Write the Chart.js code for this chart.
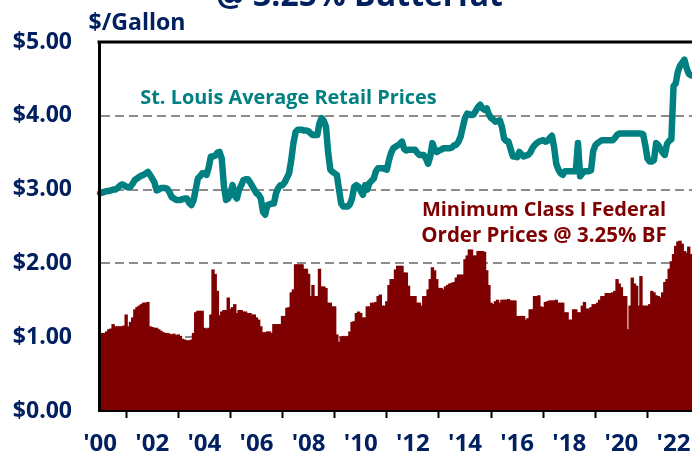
<!DOCTYPE html>
<html>
<head>
<meta charset="utf-8">
<script src="https://cdn.jsdelivr.net/npm/chart.js@4.4.0/dist/chart.umd.min.js"></script>
<style>
  html, body { margin: 0; padding: 0; background: #ffffff; overflow: hidden; }
  #wrap { width: 692px; height: 457px; }
</style>
</head>
<body>
<div id="wrap"><canvas id="chart" width="692" height="457"></canvas></div>
<script>
// Monthly data, Jan 2000 - Sep 2022 ($/gallon)
const years = [2000, 2001, 2002, 2003, 2004, 2005, 2006, 2007, 2008, 2009, 2010, 2011,
               2012, 2013, 2014, 2015, 2016, 2017, 2018, 2019, 2020, 2021, 2022];
const monthsInLastYear = 9;

const retailPrices = [
    2.95, 2.96, 2.97, 2.98, 2.98, 2.99, 3.00, 3.00, 3.02, 3.05, 3.07, 3.06, // 2000
    3.04, 3.03, 3.04, 3.08, 3.13, 3.15, 3.17, 3.19, 3.20, 3.22, 3.24, 3.20, // 2001
    3.15, 3.10, 2.99, 3.00, 3.02, 3.02, 3.02, 3.01, 2.96, 2.90, 2.88, 2.86, // 2002
    2.86, 2.86, 2.87, 2.88, 2.88, 2.82, 2.79, 2.85, 3.00, 3.15, 3.18, 3.22, // 2003
    3.22, 3.20, 3.30, 3.45, 3.45, 3.46, 3.50, 3.51, 3.42, 3.05, 2.86, 2.88, // 2004
    2.95, 3.06, 2.92, 2.88, 3.00, 3.06, 3.13, 3.14, 3.14, 3.10, 3.05, 3.00, // 2005
    2.95, 2.93, 2.88, 2.70, 2.66, 2.79, 2.80, 2.81, 2.81, 2.95, 3.02, 3.06, // 2006
    3.06, 3.10, 3.16, 3.22, 3.40, 3.63, 3.78, 3.81, 3.81, 3.81, 3.80, 3.80, // 2007
    3.79, 3.76, 3.74, 3.74, 3.74, 3.90, 3.97, 3.93, 3.85, 3.50, 3.27, 3.24, // 2008
    3.22, 3.20, 3.00, 2.81, 2.77, 2.77, 2.77, 2.80, 2.88, 3.04, 3.06, 3.04, // 2009
    2.98, 2.93, 3.06, 3.00, 3.09, 3.12, 3.15, 3.25, 3.29, 3.29, 3.29, 3.28, // 2010
    3.27, 3.40, 3.50, 3.56, 3.58, 3.60, 3.62, 3.65, 3.55, 3.53, 3.54, 3.54, // 2011
    3.54, 3.54, 3.50, 3.47, 3.47, 3.47, 3.42, 3.35, 3.45, 3.63, 3.55, 3.51, // 2012
    3.53, 3.54, 3.56, 3.56, 3.56, 3.56, 3.57, 3.60, 3.61, 3.65, 3.72, 3.85, // 2013
    3.97, 4.03, 4.02, 4.01, 4.02, 4.07, 4.12, 4.15, 4.10, 4.08, 4.10, 4.02, // 2014
    3.97, 3.95, 3.92, 3.93, 3.94, 3.85, 3.69, 3.66, 3.65, 3.55, 3.45, 3.45, // 2015
    3.44, 3.51, 3.48, 3.45, 3.46, 3.47, 3.50, 3.56, 3.60, 3.63, 3.65, 3.66, // 2016
    3.67, 3.65, 3.66, 3.70, 3.73, 3.58, 3.35, 3.27, 3.22, 3.20, 3.25, 3.25, // 2017
    3.25, 3.25, 3.25, 3.25, 3.63, 3.18, 3.22, 3.25, 3.25, 3.25, 3.26, 3.52, // 2018
    3.60, 3.63, 3.65, 3.67, 3.67, 3.67, 3.67, 3.67, 3.67, 3.70, 3.74, 3.76, // 2019
    3.76, 3.76, 3.76, 3.76, 3.76, 3.76, 3.76, 3.76, 3.76, 3.76, 3.75, 3.60, // 2020
    3.42, 3.38, 3.38, 3.40, 3.63, 3.60, 3.55, 3.50, 3.47, 3.62, 3.66, 3.68, // 2021
    4.40, 4.44, 4.60, 4.68, 4.72, 4.76, 4.65, 4.57, 4.55                    // 2022
];

const classIPrices = [
    1.05, 1.05, 1.05, 1.07, 1.10, 1.11, 1.17, 1.14, 1.14, 1.14, 1.14, 1.15, // 2000
    1.30, 1.14, 1.20, 1.26, 1.37, 1.40, 1.42, 1.44, 1.46, 1.46, 1.47, 1.14, // 2001
    1.13, 1.12, 1.12, 1.10, 1.08, 1.06, 1.05, 1.05, 1.04, 1.03, 1.04, 1.02, // 2002
    1.03, 1.01, 0.97, 0.96, 0.95, 0.95, 0.96, 1.05, 1.33, 1.35, 1.35, 1.35, // 2003
    1.12, 1.11, 1.12, 1.30, 1.91, 1.85, 1.62, 1.29, 1.34, 1.36, 1.36, 1.53, // 2004
    1.38, 1.40, 1.44, 1.32, 1.36, 1.36, 1.34, 1.34, 1.32, 1.32, 1.30, 1.30, // 2005
    1.26, 1.23, 1.14, 1.06, 1.06, 1.07, 1.07, 1.05, 1.17, 1.17, 1.17, 1.17, // 2006
    1.28, 1.28, 1.39, 1.40, 1.60, 1.64, 1.98, 1.98, 1.98, 1.98, 1.92, 1.92, // 2007
    1.85, 1.55, 1.70, 1.55, 1.55, 1.92, 1.68, 1.68, 1.66, 1.46, 1.46, 1.41, // 2008
    1.41, 1.03, 0.93, 1.00, 1.01, 1.00, 1.01, 1.07, 1.20, 1.21, 1.32, 1.34, // 2009
    1.32, 1.26, 1.26, 1.41, 1.41, 1.46, 1.46, 1.47, 1.55, 1.57, 1.42, 1.42, // 2010
    1.48, 1.70, 1.78, 1.78, 1.91, 1.96, 1.96, 1.96, 1.87, 1.87, 1.69, 1.55, // 2011
    1.55, 1.55, 1.46, 1.46, 1.42, 1.55, 1.55, 1.64, 1.78, 1.94, 1.90, 1.78, // 2012
    1.66, 1.66, 1.64, 1.68, 1.70, 1.72, 1.73, 1.74, 1.80, 1.84, 1.84, 1.84, // 2013
    2.05, 2.10, 2.18, 2.18, 2.10, 2.10, 2.16, 2.16, 2.16, 2.15, 1.90, 1.70, // 2014
    1.46, 1.44, 1.48, 1.50, 1.46, 1.50, 1.50, 1.50, 1.51, 1.49, 1.49, 1.49, // 2015
    1.28, 1.28, 1.28, 1.28, 1.23, 1.25, 1.37, 1.37, 1.55, 1.55, 1.56, 1.41, // 2016
    1.40, 1.47, 1.48, 1.49, 1.49, 1.49, 1.50, 1.46, 1.46, 1.46, 1.33, 1.33, // 2017
    1.23, 1.23, 1.37, 1.37, 1.33, 1.33, 1.42, 1.47, 1.38, 1.38, 1.40, 1.44, // 2018
    1.44, 1.46, 1.50, 1.55, 1.55, 1.59, 1.59, 1.59, 1.60, 1.62, 1.78, 1.72, // 2019
    1.67, 1.55, 1.55, 1.10, 1.42, 1.80, 1.72, 1.69, 1.42, 1.82, 1.42, 1.42, // 2020
    1.42, 1.44, 1.62, 1.60, 1.56, 1.55, 1.53, 1.60, 1.74, 1.78, 1.92, 2.02, // 2021
    2.12, 2.23, 2.29, 2.30, 2.26, 2.16, 2.14, 2.22, 2.12                    // 2022
];

const yTicks = [0, 1, 2, 3, 4, 5];
const yearTickLabels = ["'00", "'02", "'04", "'06", "'08", "'10", "'12", "'14", "'16", "'18", "'20", "'22"];

const navy = '#002060';
const teal = '#008080';
const darkRed = '#7f0000';

// category labels, one per month
const months = [];
years.forEach((year, i) => {
    const count = i === years.length - 1 ? monthsInLastYear : 12;
    for (let m = 1; m <= count; m++) {
        months.push(`${year}-${String(m).padStart(2, '0')}`);
    }
});

function drawFitText(ctx, text, centerX, baseline, targetWidth, color) {
    ctx.font = 'bold 20px "Open Sans"';
    const size = 20 * targetWidth / ctx.measureText(text).width;
    ctx.font = `bold ${size.toFixed(1)}px "Open Sans"`;
    ctx.fillStyle = color;
    ctx.textAlign = 'center';
    ctx.textBaseline = 'alphabetic';
    ctx.fillText(text, centerX, baseline);
}

// top frame line and the text labels
const overlayPlugin = {
    id: 'overlayText',
    afterDraw(chart) {
        const { ctx, chartArea } = chart;
        ctx.save();
        ctx.strokeStyle = 'black';
        ctx.lineWidth = 3;
        ctx.beginPath();
        ctx.moveTo(chartArea.left - 1.5, chartArea.top);
        ctx.lineTo(chartArea.right, chartArea.top);
        ctx.stroke();

        drawFitText(ctx, '@ 3.25% Butterfat', 359.5, 6, 287, navy);
        drawFitText(ctx, '$/Gallon', 137, 30, 97, navy);
        drawFitText(ctx, 'St. Louis Average Retail Prices', 288.5, 104, 297, teal);
        drawFitText(ctx, 'Minimum Class I Federal', 544, 216, 244, darkRed);
        drawFitText(ctx, 'Order Prices @ 3.25% BF', 544, 241.5, 245, darkRed);
        ctx.restore();
    }
};

Chart.defaults.font.family = '"Open Sans", sans-serif';
Chart.defaults.font.weight = 'bold';

const ctx = document.getElementById('chart').getContext('2d');
new Chart(ctx, {
    type: 'bar',
    data: {
        labels: months,
        datasets: [{
            type: 'line',
            label: 'St. Louis Average Retail Prices',
            data: retailPrices,
            borderColor: teal,
            borderWidth: 6.5,
            pointRadius: 0,
            tension: 0,
            borderJoinStyle: 'round',
            borderCapStyle: 'round',
            order: 0
        }, {
            type: 'bar',
            label: 'Minimum Class I Federal Order Prices @ 3.25% BF',
            data: classIPrices,
            backgroundColor: darkRed,
            borderWidth: 0,
            barPercentage: 1,
            categoryPercentage: 1,
            inflateAmount: 0.6,
            order: 1
        }]
    },
    options: {
        responsive: false,
        animation: false,
        layout: { padding: { top: 42, left: 0, right: 0, bottom: 0 } },
        plugins: {
            legend: { display: false },
            tooltip: { enabled: false }
        },
        scales: {
            x: {
                afterFit: (scale) => {
                    scale.height = 46;
                    // plot runs to the right edge of the picture
                    scale.paddingRight = 0;
                    scale.paddingLeft = 0;
                },
                grid: {
                    drawOnChartArea: false,
                    tickLength: 7,
                    tickWidth: 2,
                    tickColor: 'black'
                },
                border: { color: 'black', width: 2, z: 1 },
                ticks: {
                    autoSkip: false,
                    maxRotation: 0,
                    padding: 12,
                    color: navy,
                    font: { size: 24, weight: 'bold' },
                    callback: (value, index) => index % 24 === 0 ? yearTickLabels[index / 24] : null
                }
            },
            y: {
                min: yTicks[0],
                max: yTicks[yTicks.length - 1],
                afterFit: (scale) => { scale.width = 99; },
                afterBuildTicks: (scale) => { scale.ticks = yTicks.map(v => ({ value: v })); },
                grid: {
                    drawTicks: false,
                    lineWidth: 2,
                    color: (c) => (c.tick && (c.tick.value === 0 || c.tick.value === 5)) ? 'rgba(0,0,0,0)' : '#8c8c8c'
                },
                border: { color: 'black', width: 3, z: 1, dash: [9, 5] },
                ticks: {
                    padding: 27,
                    color: navy,
                    font: { size: 23, weight: 'bold' },
                    callback: (value) => '$' + value.toFixed(2)
                }
            }
        }
    },
    plugins: [overlayPlugin]
});
</script>
</body>
</html>
